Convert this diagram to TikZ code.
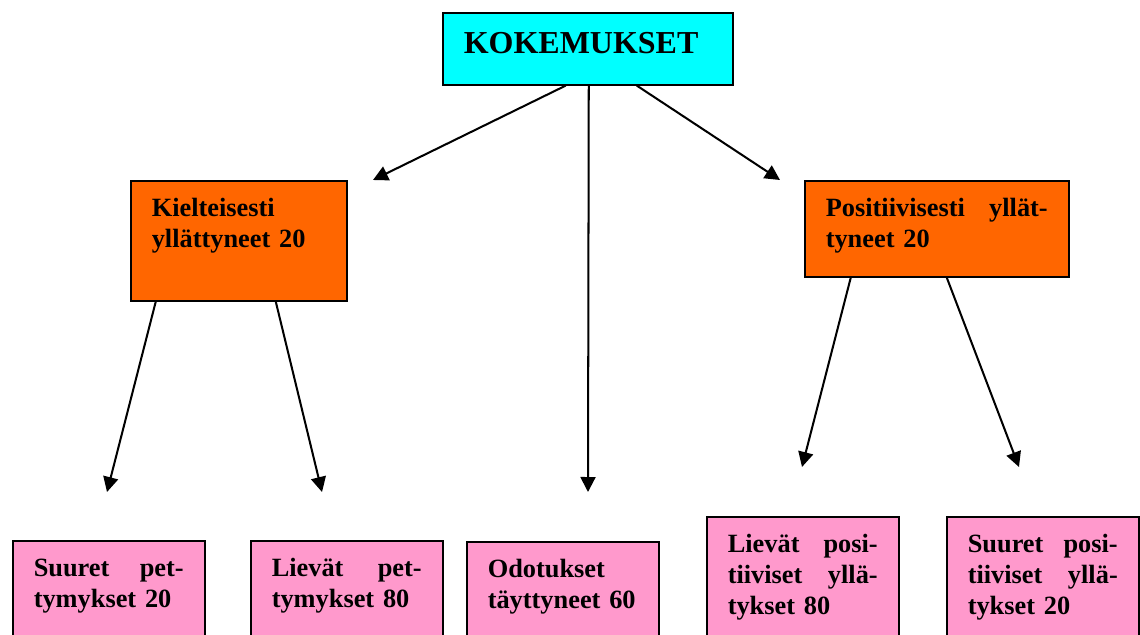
\documentclass[tikz,border=0pt]{standalone}
\usepackage{fontspec}
\setmainfont{Liberation Serif}
\usepackage{xcolor}
\usetikzlibrary{arrows.meta}
\definecolor{topcyan}{RGB}{0,255,255}
\definecolor{midorange}{RGB}{255,102,0}
\definecolor{leafpink}{RGB}{255,153,204}

\begin{document}
\begin{tikzpicture}[x=0.02cm, y=-0.02cm,
  box/.style={draw=black, line width=0.9pt, anchor=north west, inner xsep=0.42cm,
    inner ysep=0pt, align=left, font=\fontsize{15}{17.6}\selectfont\bfseries},
  topbox/.style={box, fill=topcyan, font=\fontsize{18.2}{21}\selectfont\bfseries},
  midbox/.style={box, fill=midorange, text height=0.72cm},
  leafbox/.style={box, fill=leafpink, text width=3.0cm, text height=0.71cm, text depth=1.9cm},
  arr/.style={-{Triangle[length=0.3cm, width=0.3cm]}, line width=1.15pt}]
  \clip (0, 0) rectangle (1140, 635);

  % boxes
  \node[topbox, text width=4.96cm, text height=0.82cm, text depth=0.62cm] (koke) at (442, 12) {KOKEMUKSET};
  \node[midbox, text width=3.48cm, text depth=1.68cm] (kiel) at (130, 180) {Kielteisesti\\yllättyneet 20};
  \node[midbox, text width=4.44cm, text depth=1.2cm] (posi) at (804, 180) {Positiivisesti\hfill yllät-\\tyneet 20};

  \node[leafbox] (suurpet) at (12, 540) {Suuret\hfill pet-\\tymykset 20};
  \node[leafbox] (lievpet) at (250, 540) {Lievät\hfill pet-\\tymykset 80};
  \node[leafbox] (odot) at (466, 541) {Odotukset\\täyttyneet 60};
  \node[leafbox] (lievpos) at (706, 516) {Lievät\hfill posi-\\tiiviset\hfill yllä-\\tykset 80};
  \node[leafbox] (suurpos) at (946, 516) {Suuret\hfill posi-\\tiiviset\hfill yllä-\\tykset 20};

  % arrow ends
  \coordinate (kielTip) at (373, 180);
  \coordinate (odotTip) at (588, 492);
  \coordinate (posiTip) at (780, 180);
  \coordinate (suurpetTip) at (107, 492);
  \coordinate (lievpetTip) at (322, 492);
  \coordinate (lievposTip) at (802, 467);
  \coordinate (suurposTip) at (1019, 467);

  \draw[arr] ([xshift=-0.44cm]koke.south) -- (kielTip);
  \draw[arr] ([xshift=0.02cm]koke.south) -- (odotTip);
  \draw[arr] ([xshift=0.98cm]koke.south) -- (posiTip);
  \draw[arr] ([xshift=-1.66cm]kiel.south) -- (suurpetTip);
  \draw[arr] ([xshift=0.74cm]kiel.south) -- (lievpetTip);
  \draw[arr] ([xshift=-1.72cm]posi.south) -- (lievposTip);
  \draw[arr] ([xshift=0.2cm]posi.south) -- (suurposTip);
\end{tikzpicture}
\end{document}
